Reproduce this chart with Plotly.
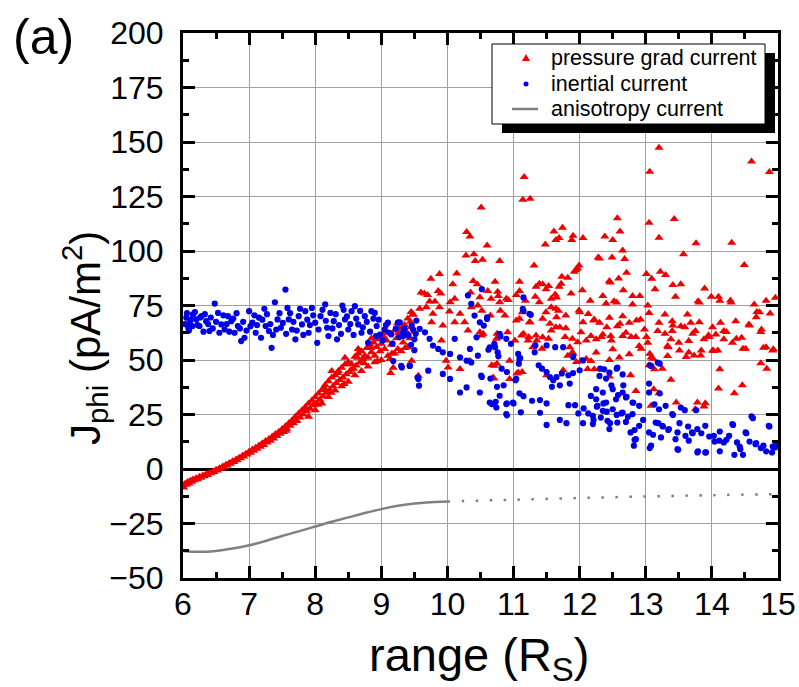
import plotly.graph_objects as go

# ---------------- data ----------------
# pressure grad current (red triangles)
pg_x = [
 6.00,6.01,6.03,6.05,6.07,6.09,6.11,6.13,6.15,6.17,6.20,6.22,6.25,6.27,6.30,6.32,6.35,6.37,6.40,6.42,
 6.45,6.47,6.50,6.52,6.55,6.57,6.60,6.62,6.65,6.67,6.70,6.72,6.75,6.77,6.80,6.82,6.85,6.87,6.90,6.92,
 6.95,6.97,7.00,7.02,7.05,7.07,7.10,7.12,7.15,7.17,7.20,7.22,7.25,7.27,7.30,7.32,7.35,7.37,7.40,7.42,
 7.45,7.47,7.50,7.52,7.55,7.57,7.60,7.62,7.65,7.67,7.70,7.72,7.75,7.77,7.80,7.82,7.85,7.87,7.90,7.92,
 7.95,7.97,8.00,8.02,8.05,8.07,8.10,8.12,8.15,8.17,8.20,8.22,8.25,8.27,8.30,8.32,8.35,8.37,8.40,8.42,
 8.45,8.47,8.50,8.52,8.55,8.58,8.60,8.62,8.65,8.68,8.70,8.72,8.75,8.78,8.80,8.83,8.85,8.88,8.90,8.93,
 8.95,8.98,9.00,9.03,9.05,9.08,9.10,9.13,9.15,9.18,9.20,9.23,9.25,9.28,9.30,9.33,9.35,9.38,9.40,9.43,
 9.45,9.48,9.50,9.14,
 7.56,7.71,7.86,8.04,8.14,8.24,8.34,8.44,8.54,8.64,8.74,8.84,8.94,9.04,9.16,9.26,9.36,9.44,
 7.90,8.00,8.10,8.20,8.30,8.40,8.50,8.60,8.70,8.80,8.90,9.00,9.10,9.20,9.30,9.40,8.25,8.45,8.65,8.85,
 9.05,9.25,9.45,
 13.20,14.60,14.87,13.06,11.16,11.14,11.25,10.51,12.57,13.05,13.43,10.29,10.34,11.61,11.74,11.64,11.69,11.48,11.90,12.05,
 11.88,10.60,12.38,12.50,12.61,13.20,13.76,14.30,12.65,12.30,12.49,12.68,13.57,10.28,10.40,10.42,10.53,10.79,12.28,
 11.31,11.99,11.94,11.92,11.97,10.14,9.88,9.75,10.39,10.08,10.72,11.09,11.73,11.82,11.72,11.39,11.44,11.53,11.34,11.49,
 11.69,10.45,9.60,9.65,9.70,9.86,9.90,10.61,10.76,10.77,11.04,11.09,11.33,11.63,11.87,12.04,10.35,
 14.49,12.71,12.59,12.45,13.01,13.09,13.22,13.30,13.41,13.53,12.66,13.14,13.89,12.35,12.80,12.91,13.45,13.99,14.10,14.96,
 12.46,14.12,14.29,14.82,12.16,12.56,13.81,12.52,12.80,13.03,13.79,14.28,14.64,12.40,
 9.48,9.58,9.68,9.78,9.88,10.03,10.19,10.26,10.31,10.49,10.54,10.36,10.46,10.11,9.93,9.76,9.91,9.98,10.19,10.01,
 9.56,9.46,10.34,10.69,10.74,10.91,11.02,11.04,10.94,11.07,10.71,10.94,
 11.12,11.22,11.29,11.34,11.44,11.57,11.64,11.79,11.89,11.97,12.02,12.10,11.82,11.89,12.02,12.12,12.10,11.49,11.64,11.79,
 11.99,11.39,11.57,11.24,11.09,11.44,11.57,10.79,10.66,10.89,10.49,10.11,10.04,9.73,9.81,
 10.52,10.65,10.80,10.87,11.13,11.25,10.52,10.75,11.15,11.23,11.35,11.43,11.53,11.55,11.65,11.70,11.78,11.85,11.68,11.90,
 12.00,12.05,12.13,10.67,10.75,10.70,11.05,11.13,11.50,11.75,11.95,11.18,11.65,10.92,
 13.29,13.63,14.36,14.56,14.68,14.88,14.75,14.93,14.78,14.13,14.18,14.45,14.51,13.95,14.03,13.83,13.65,13.50,13.38,13.33,
 13.40,13.20,13.18,12.98,13.03,12.85,12.70,12.65,12.75,12.90,12.47,12.35,12.25,12.17,12.50,12.25,12.45,12.60,12.17,12.30,
 12.45,12.65,12.22,12.57,12.75,12.92,13.05,13.40,13.53,13.68,13.75,13.88,14.06,14.31,14.18,13.65,13.33,
 12.22,12.45,12.77,13.08,13.13,13.25,13.05,13.12,13.20,13.38,13.46,13.78,13.90,13.88,13.75,14.12,14.10,14.34,14.46,14.74,
 14.83,12.85,13.08,
 12.21,12.33,12.41,12.48,12.61,12.78,12.86,12.93,13.01,13.06,13.11,13.29,13.41,13.51,13.59,13.71,13.81,13.84,13.96,14.01,
 14.09,14.22,14.37,14.47,14.57,14.74,14.82,14.92,14.72,14.67,13.34,13.61,13.73,14.01,
]
pg_y = [
 -7.5,-8.5,-6.8,-7.2,-6.0,-6.6,-5.4,-5.9,-4.8,-5.2,-4.3,-4.7,-3.6,-4.0,-3.0,-3.3,-2.4,-2.7,-1.8,-2.0,
 -1.1,-1.4,-0.4,-0.7,0.4,0.1,1.2,0.9,2.0,1.6,2.8,2.4,3.6,3.2,4.4,4.0,5.2,4.9,6.1,5.7,
 7.0,6.6,8.0,7.5,8.9,8.4,9.8,9.3,10.8,10.2,11.8,11.0,12.8,12.1,13.8,13.0,14.9,14.0,16.0,15.1,
 17.1,16.2,18.3,17.0,19.6,18.5,21.0,19.8,22.4,21.0,24.0,22.2,25.5,23.6,27.0,25.0,28.4,26.5,30.0,27.6,
 31.4,29.2,33.0,30.0,34.6,31.8,36.2,33.4,38.5,35.0,40.2,36.3,42.0,38.0,43.0,39.4,45.0,40.8,46.4,42.0,
 47.9,43.5,49.0,44.5,48.2,46.0,51.5,47.5,53.0,49.0,54.0,50.5,52.0,55.5,51.0,57.0,53.5,58.0,52.0,56.0,
 59.5,54.0,57.5,61.0,55.0,59.0,62.5,50.5,57.0,46.5,63.5,60.0,55.0,64.5,61.5,58.0,66.0,63.0,69.0,60.0,
 65.0,71.0,63.0,44.0,
 17.5,22.0,28.0,29.5,37.0,35.0,44.0,39.0,45.5,51.0,48.5,55.5,49.5,59.5,53.0,62.5,55.5,67.5,
 24.0,27.0,30.0,33.0,36.0,38.0,40.0,43.0,45.0,47.0,49.0,50.0,52.0,53.0,54.0,56.0,45.0,51.0,55.0,60.0,
 63.0,67.0,72.0,
 147.4,141.0,136.2,136.4,134.0,123.5,124.0,120.0,115.0,113.0,114.7,108.7,106.6,109.0,110.7,105.0,106.0,103.0,107.0,106.0,
 105.0,102.5,106.6,105.0,108.9,106.1,103.5,103.8,100.2,96.6,97.0,96.3,98.5,97.9,98.5,95.4,96.0,95.4,97.0,
 93.4,93.4,91.3,90.5,92.0,89.7,89.4,87.3,86.2,84.8,85.9,85.9,88.2,87.7,85.0,85.0,84.7,84.0,83.6,82.5,
 83.6,84.8,81.0,80.5,79.8,81.6,80.5,81.6,81.3,79.4,79.8,81.6,79.0,80.0,80.5,82.0,81.0,
 93.6,90.0,87.4,86.2,89.4,87.3,90.5,89.0,84.4,84.8,82.0,82.5,82.8,79.4,79.4,79.4,79.0,79.0,79.0,78.5,
 85.6,77.2,76.4,77.2,77.2,76.4,76.4,77.0,75.5,75.0,77.0,77.3,75.5,75.9,
 70.7,73.5,74.2,71.2,74.2,72.2,71.2,67.3,63.5,62.7,62.0,74.2,75.0,67.3,65.8,67.3,58.9,49.7,45.9,46.6,
 42.8,49.7,49.7,42.0,59.7,62.7,58.9,68.1,49.7,44.3,47.4,41.3,
 61.2,58.9,55.8,61.2,60.4,63.5,65.0,64.6,59.7,58.1,62.7,58.9,52.0,53.5,49.7,45.9,50.5,71.9,73.5,70.4,
 72.7,76.5,78.1,67.3,68.9,68.9,74.2,76.5,78.1,78.1,78.8,78.1,76.5,76.8,76.8,
 72.6,70.4,72.6,70.4,71.9,67.3,61.2,62.0,62.0,60.5,59.0,55.2,59.7,66.6,69.6,65.0,60.5,55.9,72.6,52.9,
 71.9,67.3,71.1,47.6,48.3,41.5,43.8,44.5,43.0,45.3,49.1,77.2,78.7,77.5,
 70.9,70.9,67.8,66.3,72.0,71.3,64.0,54.9,55.6,67.1,59.5,60.2,55.2,61.3,54.1,52.1,53.4,57.9,59.5,51.8,
 63.3,67.1,63.3,64.0,57.9,60.5,62.5,61.0,52.6,56.4,61.0,61.7,59.5,61.0,54.9,53.4,50.0,51.1,49.5,67.1,
 69.4,70.1,68.6,65.5,67.1,68.6,71.6,67.8,65.5,67.1,63.3,59.5,61.7,57.9,63.3,58.7,56.4,
 45.7,42.4,43.0,51.1,45.7,46.0,47.6,36.6,34.8,40.9,30.5,30.5,30.2,28.7,27.4,45.7,36.9,34.8,38.4,48.5,
 46.0,35.8,29.0,
 68.1,60.5,65.0,59.0,66.6,60.5,68.1,55.2,60.5,52.9,50.6,62.0,65.8,54.4,65.0,62.0,67.3,54.4,60.5,65.0,
 54.4,62.8,59.7,55.2,65.8,62.8,55.9,54.4,71.9,69.6,55.9,51.4,52.1,54.4,
]

# inertial current (blue dots)
in_x = [
 6.05,6.10,6.15,6.20,6.08,6.25,6.28,6.35,6.40,6.48,6.53,6.58,6.63,6.68,6.73,6.78,6.83,6.88,6.93,7.00,
 7.05,7.10,7.15,7.18,7.23,7.25,7.30,7.34,7.39,7.43,7.48,7.55,7.58,7.60,7.65,7.70,7.75,7.80,7.85,7.90,
 7.95,8.00,8.03,8.08,8.15,8.18,8.23,8.28,8.33,8.41,8.45,8.50,8.55,8.60,8.65,8.70,8.75,8.80,8.85,8.90,
 8.93,8.98,9.05,9.10,9.15,9.18,9.25,9.30,9.33,9.43,9.48,9.50,9.55,
 6.03,6.06,6.09,6.12,6.14,6.18,6.22,6.26,6.31,6.33,6.38,6.42,6.45,6.50,6.55,6.61,6.66,6.70,6.76,6.81,
 6.86,6.91,6.96,7.02,7.08,7.12,7.20,7.27,7.32,7.36,7.41,7.46,7.51,7.56,7.62,7.67,7.72,7.77,7.82,7.88,
 7.92,7.97,8.05,8.11,8.16,8.20,8.26,8.31,8.36,8.39,8.43,8.48,8.53,8.58,8.62,8.68,8.72,8.78,8.83,8.88,
 8.92,8.96,9.02,9.07,9.12,9.17,9.22,9.27,9.35,9.40,9.45,9.50,9.52,
 9.28,9.33,9.41,9.46,9.53,9.58,9.66,9.73,9.78,9.86,9.93,10.04,10.11,10.19,10.29,10.36,10.46,10.34,10.44,10.31,
 10.36,10.41,10.49,10.60,10.64,10.71,10.76,10.79,10.89,10.96,11.07,11.09,11.14,11.24,11.32,9.71,9.56,9.57,9.93,10.04,
 10.19,10.29,10.51,10.49,10.64,10.74,10.79,10.89,10.99,11.04,10.89,9.31,9.43,
 10.52,11.15,11.15,11.26,10.60,10.55,10.80,10.72,10.62,10.77,11.10,10.52,10.65,10.82,10.90,11.03,10.75,10.85,10.73,10.67,
 10.90,10.90,11.00,11.11,11.09,11.15,11.28,11.40,11.50,11.38,11.43,11.50,11.55,11.60,11.65,11.73,11.83,11.90,12.00,11.58,
 11.70,11.85,11.08,11.33,11.50,11.63,11.75,11.90,12.05,12.31,12.56,12.40,12.48,12.66,12.58,12.71,12.81,13.06,13.21,13.05,
 13.21,11.83,11.93,11.98,12.06,12.13,12.21,12.26,12.36,12.41,12.46,12.56,12.63,12.73,12.83,12.83,12.96,13.06,13.11,13.19,
 13.26,13.34,13.41,13.49,13.51,13.59,13.64,13.71,13.76,13.79,13.91,13.84,13.96,14.04,14.12,14.12,14.22,14.32,14.34,14.42,
 14.47,14.52,14.57,14.62,14.67,14.74,14.82,14.87,14.92,14.97,11.50,11.70,11.80,12.05,11.40,
 13.08,13.18,12.37,12.57,12.65,12.30,12.45,12.25,12.35,12.50,12.65,12.17,12.25,12.40,12.55,12.70,12.80,12.90,12.27,12.35,
 12.50,12.65,12.80,12.20,12.32,12.42,12.57,12.70,12.20,12.45,12.90,13.05,13.13,13.20,13.30,13.40,13.53,13.15,13.25,13.35,
 13.48,13.60,13.70,13.78,13.90,13.05,13.08,13.23,13.45,13.65,13.78,13.90,14.03,14.11,14.31,14.38,14.43,14.51,14.60,14.66,
 14.78,14.86,14.91,14.96,14.26,14.18,13.48,12.85,12.77,12.82,
]
in_y = [
 69.4,67.0,70.9,68.6,64.8,65.6,70.1,67.8,63.3,75.9,71.6,66.3,64.0,70.1,67.8,62.5,65.6,58.7,60.2,72.4,
 67.1,62.5,69.4,60.2,73.5,65.6,63.3,55.6,76.5,68.6,64.8,82.3,73.9,68.6,64.0,59.5,70.1,66.3,72.4,62.5,
 73.9,67.1,57.9,70.1,75.5,64.8,71.6,67.8,59.5,75.0,68.6,64.0,72.4,74.7,66.3,62.5,70.1,57.9,72.4,71.6,
 65.6,61.7,64.0,67.1,61.7,49.5,67.1,47.3,61.0,47.3,64.0,59.5,42.0,
 66.5,71.5,63.5,68.5,65.5,72.0,66.0,69.5,63.0,71.0,66.5,69.5,64.5,67.5,62.5,70.5,66.5,63.0,69.0,71.5,
 64.5,67.5,63.5,65.5,70.5,66.0,68.5,71.0,66.5,61.5,64.0,71.5,67.0,62.0,71.5,67.5,63.5,73.5,61.5,68.5,
 66.0,70.5,64.0,73.0,68.0,61.0,64.5,71.0,66.0,62.0,73.0,70.0,66.5,61.5,69.0,72.5,65.0,67.5,63.0,69.0,
 61.0,68.5,59.0,66.0,62.5,57.5,64.5,60.5,64.5,61.5,57.0,54.5,62.0,
 67.3,62.7,61.2,65.8,68.1,64.3,62.7,59.7,56.6,55.1,53.5,52.8,59.7,51.2,49.7,48.9,52.0,55.1,60.4,79.6,
 75.8,70.4,67.3,69.6,55.8,57.4,53.5,62.0,59.7,57.4,52.8,50.5,73.5,71.2,53.5,45.1,41.3,38.2,43.6,41.3,
 35.1,37.4,42.8,35.1,30.5,28.2,33.6,29.8,30.5,41.3,25.2,46.6,47.4,
 82.5,78.7,72.6,70.7,68.8,65.8,60.8,55.9,54.7,51.7,50.9,42.2,41.5,46.0,44.5,40.7,37.7,38.4,30.8,29.8,
 30.1,24.6,30.1,26.0,34.7,33.4,31.3,31.6,30.1,47.6,46.0,44.5,42.2,40.7,42.2,43.8,43.0,44.0,45.3,37.7,
 38.4,39.2,48.3,56.7,56.7,55.9,55.9,51.4,49.8,46.0,46.0,41.5,38.4,38.4,33.9,33.1,30.4,47.6,48.3,39.2,
 34.7,29.3,29.3,25.5,27.8,25.5,22.5,28.6,30.1,26.3,21.0,24.8,25.5,24.0,17.9,13.4,22.5,9.6,15.7,21.0,
 19.5,17.9,24.8,8.8,21.0,27.0,19.5,16.4,27.0,8.1,7.6,16.4,14.9,12.6,17.2,8.1,13.4,20.2,6.5,10.3,
 6.5,16.4,12.6,23.3,11.9,9.6,8.1,19.5,10.3,11.1,20.2,22.5,21.0,21.0,25.8,
 47.3,48.8,45.7,46.5,43.4,42.7,44.2,36.6,35.1,36.6,35.1,33.5,32.0,30.5,32.0,32.8,30.5,29.0,29.0,26.7,
 27.4,25.9,25.2,24.4,23.6,22.1,21.3,21.6,20.6,18.3,19.8,35.1,29.7,27.4,29.0,25.2,28.2,21.3,19.8,18.3,
 16.8,15.2,16.8,18.3,19.8,16.8,10.7,14.5,13.7,13.0,7.6,7.6,15.2,13.0,20.6,12.2,9.1,16.8,24.1,11.4,
 10.7,19.8,7.6,9.9,15.2,12.2,9.1,13.7,16.8,10.7,
]

# anisotropy current (gray line): solid part and dotted extension
an_x = [6.00,6.25,6.50,6.75,7.00,7.25,7.50,7.75,8.00,8.25,8.50,8.75,9.00,9.25,9.50,9.75,10.00]
an_y = [-37.6,-38.0,-37.6,-36.5,-35.0,-33.0,-30.7,-28.6,-26.4,-24.2,-22.2,-20.2,-18.4,-16.9,-15.8,-15.2,-14.9]
an_dot_x = [10.0,11.0,12.0,13.0,14.0,15.0]
an_dot_y = [-14.9,-14.1,-13.3,-12.6,-12.0,-11.5]

x_ticks = [6, 7, 8, 9, 10, 11, 12, 13, 14, 15]
y_ticks = [-50, -25, 0, 25, 50, 75, 100, 125, 150, 175, 200]
legend_names = ["pressure grad current", "inertial current", "anisotropy current"]

RED = "#ee0000"
BLUE = "#0000e6"
GRAY = "#808080"
FONT = "Liberation Sans, Arial, sans-serif"

# plot-area geometry in pixels (figure 799 x 687)
L, R, T, B = 183, 778, 33, 578
def px(xp):
    return (xp - L) / (R - L)
def py(yp):
    return 1 - (yp - T) / (B - T)

fig = go.Figure()
fig.add_trace(go.Scatter(x=pg_x, y=pg_y, mode="markers", name=legend_names[0], showlegend=False,
                         marker=dict(symbol="triangle-up", size=8, color=RED, line=dict(width=0))))
fig.add_trace(go.Scatter(x=in_x, y=in_y, mode="markers", name=legend_names[1], showlegend=False,
                         marker=dict(symbol="circle", size=6.2, color=BLUE, line=dict(width=0))))
fig.add_trace(go.Scatter(x=an_x, y=an_y, mode="lines", name=legend_names[2], showlegend=False,
                         line=dict(color=GRAY, width=2.5, shape="spline")))
fig.add_trace(go.Scatter(x=an_dot_x, y=an_dot_y, mode="lines", showlegend=False,
                         line=dict(color=GRAY, width=2.5, dash="2.5px,11.5px", shape="spline")))

axis_common = dict(showline=True, linecolor="black", linewidth=3, mirror="ticks",
                   ticks="inside", ticklen=12, tickwidth=2.5, tickcolor="black",
                   showgrid=True, gridcolor="#a0a0a0", gridwidth=1, automargin=False,
                   tickfont=dict(family=FONT, size=32, color="black"))

fig.update_xaxes(range=[6, 15], tickvals=x_ticks,
                 minor=dict(dtick=0.5, ticks="inside", ticklen=6, tickwidth=2.5, tickcolor="black", showgrid=False),
                 zeroline=False, ticklabelstandoff=-4, **axis_common)
fig.update_yaxes(range=[-50, 200], tickvals=y_ticks,
                 minor=dict(dtick=12.5, ticks="inside", ticklen=6, tickwidth=2.5, tickcolor="black", showgrid=False),
                 zeroline=True, zerolinecolor="black", zerolinewidth=2.5, ticklabelstandoff=10, **axis_common)

# ---- legend drawn as a framed box with drop shadow ----
bx0, bx1, by0, by1 = 492, 765, 44, 124
shapes = [
    dict(type="rect", xref="paper", yref="paper", x0=px(bx0 + 10), x1=px(bx1 + 10), y0=py(by1 + 9), y1=py(by0 + 9),
         fillcolor="black", line=dict(width=0), layer="above"),
    dict(type="rect", xref="paper", yref="paper", x0=px(bx0), x1=px(bx1), y0=py(by1), y1=py(by0),
         fillcolor="white", line=dict(color="black", width=1), layer="above"),
    dict(type="path", xref="paper", yref="paper", layer="above",
         path=f"M {px(526)} {py(54)} L {px(522)} {py(61)} L {px(530)} {py(61)} Z",
         fillcolor=RED, line=dict(width=0)),
    dict(type="circle", xref="paper", yref="paper", layer="above",
         x0=px(523.5), x1=px(528.5), y0=py(86.5), y1=py(81.5), fillcolor=BLUE, line=dict(width=0)),
    dict(type="line", xref="paper", yref="paper", layer="above",
         x0=px(512), x1=px(538), y0=py(109), y1=py(109), line=dict(color=GRAY, width=2.5)),
]
row_y = [58, 84, 109]
annotations = [
    dict(text=name, xref="paper", yref="paper", x=px(549), y=py(yy), xanchor="left", yanchor="middle",
         showarrow=False, font=dict(family=FONT, size=21.5, color="black"))
    for name, yy in zip(legend_names, row_y)
]
annotations += [
    dict(text="(a)", xref="paper", yref="paper", x=px(43), y=py(37), xanchor="center", yanchor="middle",
         showarrow=False, font=dict(family=FONT, size=50, color="black")),
    dict(text="range (R<sub>S</sub>)", xref="paper", yref="paper", x=px(479), y=py(658),
         xanchor="center", yanchor="middle", showarrow=False,
         font=dict(family=FONT, size=47, color="black")),
    dict(text="J<sub>phi</sub> (pA/m<sup>2</sup>)", xref="paper", yref="paper", x=px(84), y=py(338),
         xanchor="center", yanchor="middle", textangle=-90, showarrow=False,
         font=dict(family=FONT, size=42, color="black")),
]

fig.update_layout(
    width=799, height=687,
    margin=dict(l=L, r=799 - R, t=T, b=687 - B),
    paper_bgcolor="white", plot_bgcolor="white",
    font=dict(family=FONT, color="black"),
    showlegend=False,
    hovermode=False,
    shapes=shapes,
    annotations=annotations,
)

fig.write_html("out.html", config={"displayModeBar": False},
               post_script="document.body.style.margin='0px';document.body.style.padding='0px';")
